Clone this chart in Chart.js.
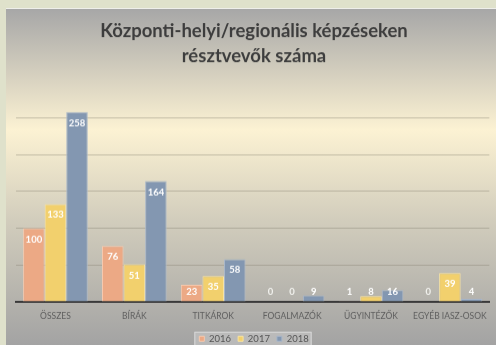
<!DOCTYPE html>
<html>
<head>
<meta charset="utf-8">
<script src="https://cdn.jsdelivr.net/npm/chart.js@4"></script>
<style>
  html, body { margin: 0; padding: 0; background: #dfe1cb; }
  #frame {
    position: absolute; left: 6px; top: 8px; width: 490px; height: 337px;
    overflow: hidden; border-top: 1px solid #eeeeea; box-sizing: border-box;
    background: linear-gradient(to bottom, #a7a7a7 0%, #fcf2d3 36%, #d3cebd 62%, #a3a3a3 100%);
  }
  #box { position: absolute; left: 0; top: 0px; width: 490px; height: 343.5px; }
</style>
</head>
<body>
<div id="frame"><div id="box"><canvas id="c"></canvas></div></div>
<script>
// Résztvevők száma kategóriánként és évenként
const categories = ['ÖSSZES', 'BÍRÁK', 'TITKÁROK', 'FOGALMAZÓK', 'ÜGYINTÉZŐK', 'EGYÉB IASZ-OSOK'];
const years = ['2016', '2017', '2018'];
const values2016 = [100, 76, 23, 0, 1, 0];
const values2017 = [133, 51, 35, 0, 8, 39];
const values2018 = [258, 164, 58, 9, 16, 4];
const yTicks = [0, 50, 100, 150, 200, 250, 300];

const fills = ['#eca985', '#f2d06d', '#8397b1'];
const edges = ['#f6c9ae', '#f8e3a2', '#a9b7c9'];
const FONT = 'Lato, "Open Sans", sans-serif';

// Értékcímkék az oszlopok tetején belül
const valueLabels = {
  id: 'valueLabels',
  afterDatasetsDraw(chart) {
    const ctx = chart.ctx;
    const base = chart.scales.y.getPixelForValue(0);
    ctx.save();
    ctx.font = 'bold 9.5px ' + FONT;
    ctx.textAlign = 'center';
    ctx.textBaseline = 'middle';
    chart.data.datasets.forEach((ds, i) => {
      chart.getDatasetMeta(i).data.forEach((el, j) => {
        const v = ds.data[j];
        const y = Math.min(el.y + 11, base - 10);
        ctx.fillStyle = v === 0 ? '#f2f2ee' : '#ffffff';
        ctx.fillText(String(v), el.x, y);
      });
    });
    ctx.restore();
  }
};

// Világosabb háttér a jelmagyarázat mögött
const legendPanel = {
  id: 'legendPanel',
  beforeDraw(chart) {
    const lg = chart.legend;
    if (!lg || !lg.legendHitBoxes.length) return;
    const hb = lg.legendHitBoxes;
    const left = hb[0].left - 5;
    const right = hb[hb.length - 1].left + hb[hb.length - 1].width + 3;
    const cy = hb[0].top + hb[0].height / 2;
    const ctx = chart.ctx;
    ctx.save();
    ctx.fillStyle = 'rgba(200,200,200,0.6)';
    ctx.strokeStyle = 'rgba(218,218,218,0.9)';
    ctx.lineWidth = 1;
    ctx.fillRect(left, cy - 7, right - left, 30);
    ctx.strokeRect(left + 0.5, cy - 6.5, right - left - 1, 30);
    ctx.restore();
  }
};

new Chart(document.getElementById('c'), {
  type: 'bar',
  data: {
    labels: categories,
    datasets: [values2016, values2017, values2018].map((d, i) => ({
      label: years[i],
      data: d,
      backgroundColor: fills[i],
      borderColor: edges[i],
      borderWidth: 1,
      categoryPercentage: 0.82,
      barPercentage: 1.0
    }))
  },
  options: {
    responsive: true,
    maintainAspectRatio: false,
    animation: false,
    layout: { padding: { left: 10, right: 4, top: 0, bottom: 0 } },
    plugins: {
      title: {
        display: true,
        text: ['Központi-helyi/regionális képzéseken', 'résztvevők száma'],
        color: '#3d3d3d',
        font: { family: FONT, size: 18.5, weight: 'bold', lineHeight: '25px' },
        padding: { top: 9.5, bottom: 12.3 }
      },
      legend: {
        position: 'bottom',
        labels: {
          boxWidth: 5, boxHeight: 5, padding: 7,
          color: '#555555',
          font: { family: FONT, size: 9.5 }
        }
      },
      tooltip: { enabled: false }
    },
    scales: {
      x: {
        grid: { display: false, drawTicks: false },
        border: { display: true, color: '#3a3a3a', width: 2 },
        ticks: { color: '#5e5e5e', font: { family: FONT, size: 8.5 }, padding: 9, maxRotation: 0, autoSkip: false },
        afterFit(scale) { scale.height = 25; }
      },
      y: {
        min: 0, max: 300,
        afterBuildTicks(scale) { scale.ticks = yTicks.map(v => ({ value: v })); },
        ticks: { display: false },
        grid: {
          drawTicks: false,
          color: ctx => (ctx.tick && (ctx.tick.value === 300 || ctx.tick.value === 0)) ? 'rgba(0,0,0,0)' : 'rgba(130,125,110,0.4)',
          lineWidth: 1
        },
        border: { display: false },
        afterFit(scale) { scale.width = 0; }
      }
    }
  },
  plugins: [valueLabels, legendPanel]
});
</script>
</body>
</html>
